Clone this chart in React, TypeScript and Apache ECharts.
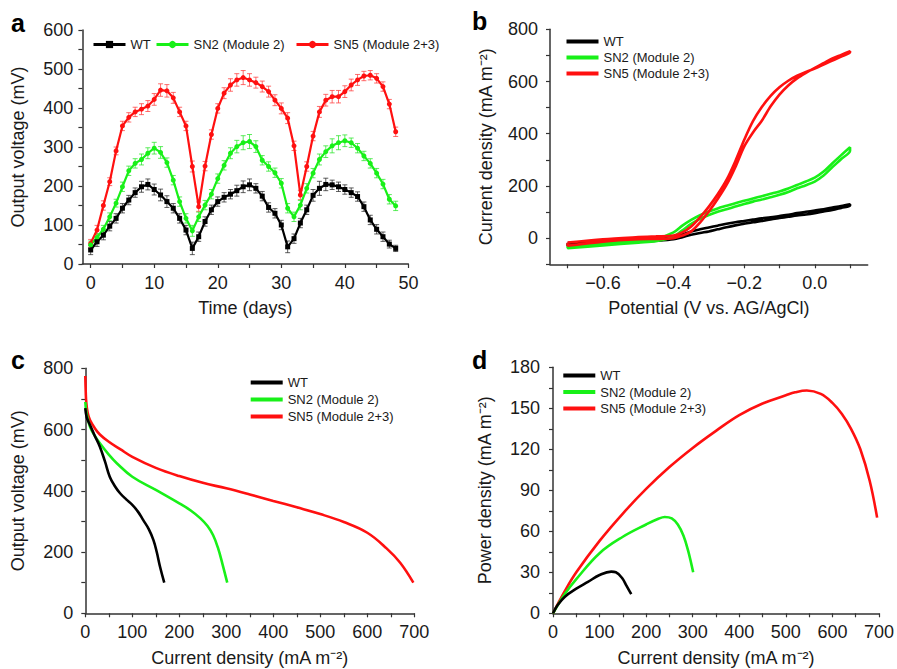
import React, { useEffect, useRef } from 'react';
import * as echarts from 'echarts';

const FONT = '"Liberation Sans", Arial, Helvetica, sans-serif';
const RED = '#ff1010';
const GREEN = '#18f018';
const BLACK = '#000000';
const AXIS = '#333333';
const TXT = '#1a1a1a';

// ---------- Panel a: output voltage over time ----------
const days = [0,1,2,3,4,5,6,7,8,9,10,11,12,13,14,15,16,17,18,19,20,21,22,23,24,25,26,27,28,29,30,31,32,33,34,35,36,37,38,39,40,41,42,43,44,45,46,47,48];
const sn5Voltage = [53,87,150,211,290,354,376,390,397,405, 422,446,444,426,390,354,250,147,251,332, 399,438,459,472,478,472,465,455,442,420, 399,374,303,177,250,328,390,420,429,429, 442,459,472,482,484,476,455,410,339];
const sn2Voltage = [49,68,89,121,156,198,239,258,268,284, 297,286,260,215,160,117,85,121,151,179, 219,253,284,301,311,314,301,266,250,234, 207,143,121,151,194,233,268,288,303,311, 316,311,297,277,258,233,205,166,149];
const wtVoltage = [36,57,74,97,117,143,164,183,198,204, 191,177,160,143,117,87,40,70,109,139, 160,171,179,188,198,203,194,174,145,130, 100,44,65,105,139,176,194,204,203,198, 191,183,173,147,113,89,70,51,40];
const sn5Err = [10,12,12,10,10,12,12,12,14,14, 15,16,16,14,12,12,14,12,12,12, 12,14,16,16,18,16,14,14,14,14, 14,14,12,12,12,12,14,15,16,16, 15,15,14,12,12,12,12,12,12];
const sn2Err = [10,10,10,10,10,12,12,12,14,14, 15,15,12,12,12,12,14,12,12,12, 12,12,14,16,18,18,15,12,12,12, 12,12,12,12,12,12,14,15,18,18, 15,12,12,12,12,12,12,12,12];
const wtErr = [12,12,12,12,12,12,12,12,14,14, 14,15,15,12,12,12,16,12,12,12, 12,12,12,14,15,15,12,12,12,12, 12,15,12,12,12,15,18,16,12,12, 12,12,12,12,12,12,12,10,8];
const aXTicks = [0,5,10,15,20,25,30,35,40,45,50];
const aXLabels = [0,10,20,30,40,50];
const aYTicks = [0,50,100,150,200,250,300,350,400,450,500,550,600];
const aYLabels = [0,100,200,300,400,500,600];

// ---------- Panel b: cyclic voltammetry ----------
const bPotential = [-0.7,-0.6,-0.5,-0.45,-0.4,-0.375,-0.35,-0.325,-0.3,-0.275,-0.25,-0.225,-0.2,-0.175,-0.15,-0.125,-0.1,-0.075,-0.05,-0.025,0,0.025,0.05,0.075,0.1];
const wtUpper = [-19,-13,-6,-4,4,14,26,34,41,48,55,61,66,71,76,80,85,90,96,101,106,111,117,123,130];
const wtLower = [-29,-22,-14,-10,-4,4,13,20,26,34,42,49,55,61,66,72,77,82,87,91,96,102,108,116,124];
const sn2Upper = [-29,-19,-9,-3,22,48,70,88,102,114,124,134,143,152,161,170,179,190,204,217,232,255,287,318,348];
const sn2Lower = [-38,-28,-17,-12,6,30,55,74,89,101,111,121,131,140,148,157,166,177,191,203,217,240,272,303,335];
const sn5Upper = [-17,-4,4,7,10,22,45,80,121,168,223,295,376,448,502,545,578,603,622,637,650,665,680,696,712];
const sn5Lower = [-29,-13,-4,-3,0,10,26,60,102,150,204,272,351,405,450,505,550,585,612,633,652,670,688,702,716];
const bXTicks = [-0.7,-0.6,-0.5,-0.4,-0.3,-0.2,-0.1,0,0.1];
const bXLabels = [-0.6,-0.4,-0.2,0];
const bYTicks = [-100,0,100,200,300,400,500,600,700,800];
const bYLabels = [0,200,400,600,800];

// ---------- Panel c: polarization curves ----------
const cWtCurrent = [0,3,10,20,31,42,52,63,74,87,100,112,123,135,145,152,159,168];
const cWtVoltage = [670,640,615,580,544,495,446,415,392,372,354,332,305,275,239,200,152,100];
const cSn2Current = [0,3,10,20,31,50,67,100,150,200,225,245,260,272,282,292,302];
const cSn2Voltage = [690,650,609,580,555,518,490,446,403,359,335,310,285,255,215,160,100];
const cSn5Current = [0,1,2,5,10,20,31,50,75,100,150,200,250,300,350,400,450,500,550,600,641,670,698];
const cSn5Voltage = [775,720,690,655,631,605,584,560,535,511,475,448,426,408,388,367,346,324,298,263,212,165,100];
const cXTicks = [0,50,100,150,200,250,300,350,400,450,500,550,600,650,700];
const cXLabels = [0,100,200,300,400,500,600,700];
const cYTicks = [0,100,200,300,400,500,600,700,800];
const cYLabels = [0,200,400,600,800];

// ---------- Panel d: power density curves ----------
const dWtCurrent = [0,10,25,50,75,100,125,135,148,158,168];
const dWtPower = [0,6,12,18,23,28,30.5,30,26,20,14];
const dSn2Current = [0,25,50,100,150,200,225,240,255,268,280,290,301];
const dSn2Power = [0,14,25,44,56,65,69,70.5,69.5,65,57,46,30];
const dSn5Current = [0,25,50,100,150,200,250,300,350,400,450,500,520,545,575,600,620,640,660,680,696];
const dSn5Power = [0,16,30,53,73,91,107,121,133.5,145,153.5,159.5,161.7,163,160.5,154,146,135,120,97,70];
const dXTicks = [0,50,100,150,200,250,300,350,400,450,500,550,600,650,700];
const dXLabels = [0,100,200,300,400,500,600,700];
const dYTicks = [0,15,30,45,60,75,90,105,120,135,150,165,180];
const dYLabels = [0,30,60,90,120,150,180];

const pairs = (xs: number[], ys: number[]) => xs.map((x, i) => [x, ys[i]]);
const loop = (xs: number[], up: number[], low: number[]) => {
  const a = xs.map((x, i) => [x, up[i]]);
  const b = xs.map((x, i) => [x, low[i]]).reverse();
  return [...a, ...b, a[0]];
};

function axis(gridIndex: number, min: number, max: number, ticks: number[], labels: number[], name: string, nameGap: number, labelMargin: number, formatter?: (v: number) => string) {
  return {
    type: 'value', gridIndex, min, max,
    name, nameLocation: 'middle', nameGap,
    nameTextStyle: { fontSize: 18, color: TXT, fontFamily: FONT },
    axisLine: { show: true, onZero: false, lineStyle: { color: AXIS, width: 1.5 } },
    axisTick: { show: true, length: 4, inside: false, customValues: ticks, lineStyle: { color: AXIS, width: 1.2 } },
    axisLabel: { customValues: labels, fontSize: 18, color: TXT, fontFamily: FONT, margin: labelMargin, formatter: formatter || ((v: number) => String(v)) },
    splitLine: { show: false },
  };
}

function errorBars(vals: number[], errs: number[], color: string) {
  return {
    type: 'custom', xAxisIndex: 0, yAxisIndex: 0, silent: true, z: 1,
    renderItem: (params: any, api: any) => {
      const x = api.value(0), y = api.value(1), e = api.value(2);
      const t = api.coord([x, y + e]);
      const b = api.coord([x, y - e]);
      const w = 2.5;
      const style = { stroke: color, lineWidth: 1 };
      return {
        type: 'group', children: [
          { type: 'line', shape: { x1: t[0], y1: t[1], x2: b[0], y2: b[1] }, style },
          { type: 'line', shape: { x1: t[0] - w, y1: t[1], x2: t[0] + w, y2: t[1] }, style },
          { type: 'line', shape: { x1: b[0] - w, y1: b[1], x2: b[0] + w, y2: b[1] }, style },
        ],
      };
    },
    encode: { x: 0, y: 1 },
    data: days.map((d, i) => [d, vals[i], errs[i]]),
  };
}

function curve(name: string, idx: number, data: number[][], color: string, smooth: number) {
  return {
    type: 'line', name, xAxisIndex: idx, yAxisIndex: idx, data, symbol: 'none', smooth,
    lineStyle: { color, width: 2.6 }, itemStyle: { color }, z: 3,
  };
}

const legendText = { fontSize: 13, color: TXT, fontFamily: FONT };
const strip = (n: string) => n.split('|')[1];

function buildOption() {
  const xAxis = [
    axis(0, -1.3, 50, aXTicks, aXLabels, 'Time (days)', 35, 10),
    axis(1, -0.75, 0.15, bXTicks, bXLabels, 'Potential (V vs. AG/AgCl)', 35, 10,
      (v: number) => (Math.abs(v) < 1e-9 ? '0.0' : (v < 0 ? '\u2212' : '') + Math.abs(v).toFixed(1))),
    axis(2, 0, 700, cXTicks, cXLabels, 'Current density (mA m\u207B\u00B2)', 36, 10),
    axis(3, 0, 700, dXTicks, dXLabels, 'Current density (mA m\u207B\u00B2)', 36, 10),
  ];
  const yAxis = [
    axis(0, 0, 600, aYTicks, aYLabels, 'Output voltage (mV)', 55, 9),
    axis(1, -100, 800, bYTicks, bYLabels, 'Current density (mA m\u207B\u00B2)', 55, 12),
    axis(2, 0, 800, cYTicks, cYLabels, 'Output voltage (mV)', 58, 12),
    axis(3, 0, 180, dYTicks, dYLabels, 'Power density (mA m\u207B\u00B2)', 59, 13),
  ];
  const grid = [
    { left: 82.4, top: 30, width: 326, height: 234 },
    { left: 550, top: 29.3, width: 317.7, height: 235 },
    { left: 85.3, top: 368.3, width: 329, height: 245 },
    { left: 553, top: 367.3, width: 328.7, height: 246 },
  ];

  const aLine = (name: string, vals: number[], color: string, symbol: string) => ({
    type: 'line', name, xAxisIndex: 0, yAxisIndex: 0, data: pairs(days, vals),
    symbol, symbolSize: 5, showSymbol: true, lineStyle: { color, width: 2.2 }, itemStyle: { color }, z: 3,
  });

  const series: any[] = [
    errorBars(sn5Voltage, sn5Err, 'rgba(255,60,60,0.75)'),
    errorBars(sn2Voltage, sn2Err, 'rgba(40,230,40,0.75)'),
    errorBars(wtVoltage, wtErr, 'rgba(40,40,40,0.75)'),
    aLine('a|SN5 (Module 2+3)', sn5Voltage, RED, 'circle'),
    aLine('a|SN2 (Module 2)', sn2Voltage, GREEN, 'circle'),
    aLine('a|WT', wtVoltage, BLACK, 'rect'),
    curve('b|WT', 1, loop(bPotential, wtUpper, wtLower), BLACK, 0.3),
    curve('b|SN2 (Module 2)', 1, loop(bPotential, sn2Upper, sn2Lower), GREEN, 0.3),
    curve('b|SN5 (Module 2+3)', 1, loop(bPotential, sn5Upper, sn5Lower), RED, 0.3),
    curve('c|SN5 (Module 2+3)', 2, pairs(cSn5Current, cSn5Voltage), RED, 0.4),
    curve('c|SN2 (Module 2)', 2, pairs(cSn2Current, cSn2Voltage), GREEN, 0.4),
    curve('c|WT', 2, pairs(cWtCurrent, cWtVoltage), BLACK, 0.4),
    curve('d|SN5 (Module 2+3)', 3, pairs(dSn5Current, dSn5Power), RED, 0.4),
    curve('d|SN2 (Module 2)', 3, pairs(dSn2Current, dSn2Power), GREEN, 0.4),
    curve('d|WT', 3, pairs(dWtCurrent, dWtPower), BLACK, 0.4),
  ];

  const aLegend = (name: string, left: number) => ({
    data: [name], left, top: 38, padding: 0, itemWidth: 32, itemHeight: 9, selectedMode: false,
    textStyle: legendText, formatter: strip, lineStyle: { width: 3 },
  });
  const vLegend = (p: string, left: number, top: number, gap: number) => ({
    data: [p + '|WT', p + '|SN2 (Module 2)', p + '|SN5 (Module 2+3)'], orient: 'vertical',
    left, top, padding: 0, itemWidth: 32, itemHeight: 4, itemGap: gap, icon: 'rect', selectedMode: false,
    textStyle: legendText, formatter: strip,
  });

  const legend = [
    aLegend('a|WT', 92),
    aLegend('a|SN2 (Module 2)', 155),
    aLegend('a|SN5 (Module 2+3)', 295),
    vLegend('b', 566.5, 35, 3),
    vLegend('c', 250.7, 376, 4),
    vLegend('d', 563.3, 369, 3.5),
  ];

  const letter = (t: string, x: number, y: number) => ({
    type: 'text', left: x, top: y,
    style: { text: t, fontSize: 25, fontWeight: 'bold', fill: '#000', fontFamily: FONT },
  });

  return {
    animation: false,
    backgroundColor: '#ffffff',
    textStyle: { fontFamily: FONT },
    grid, xAxis, yAxis, series, legend,
    graphic: [
      letter('a', 11, 10),
      letter('b', 472, 8),
      letter('c', 11, 347),
      letter('d', 472, 347),
    ],
  };
}

export default function App() {
  const ref = useRef<HTMLDivElement>(null);
  useEffect(() => {
    if (!ref.current) return;
    const chart = echarts.init(ref.current, undefined, { renderer: 'svg' });
    chart.setOption(buildOption() as any);
    return () => chart.dispose();
  }, []);
  return <div ref={ref} style={{ position: 'fixed', left: 0, top: 0, width: 897, height: 669, background: '#fff' }} />;
}
